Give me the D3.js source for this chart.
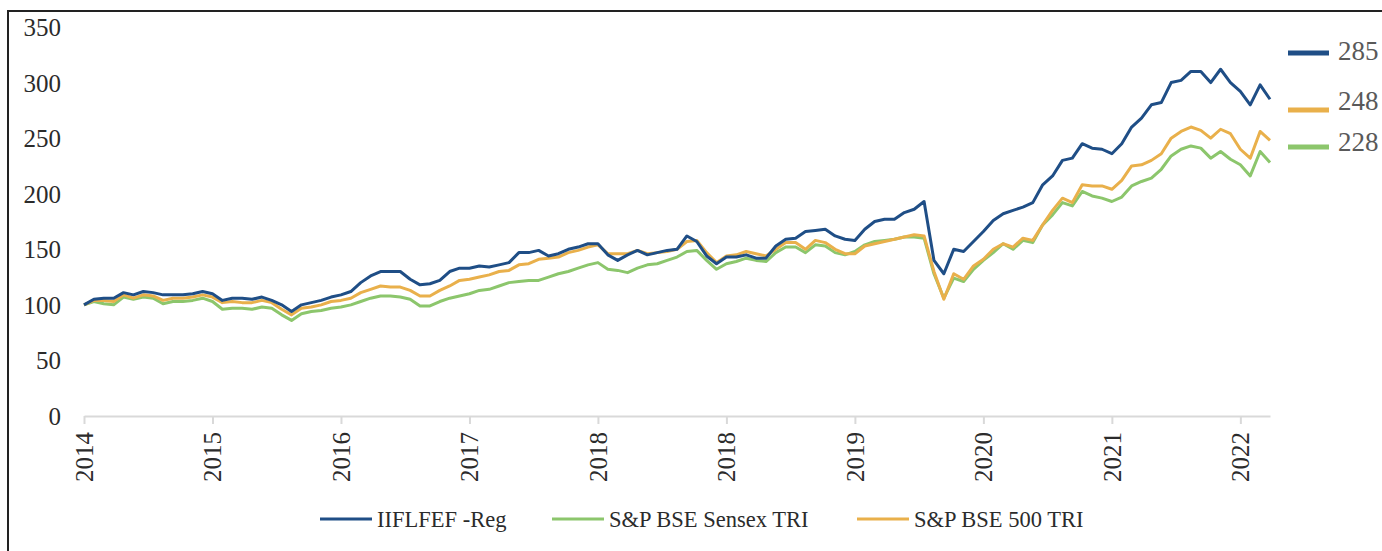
<!DOCTYPE html>
<html><head><meta charset="utf-8">
<script src="https://cdn.jsdelivr.net/npm/d3@7"></script>
<style>body{margin:0;background:#fff;}svg{display:block;}</style>
</head><body>
<svg id="chart" width="1382" height="551"></svg>
<script>
const seriesNames = ["IIFLFEF -Reg", "S&P BSE Sensex TRI", "S&P BSE 500 TRI"];
const tickLabels = ["2014","2015","2016","2017","2018","2018","2019","2020","2021","2022"];
const yTicks = [0,50,100,150,200,250,300,350];
const tickStep = 13; // one labelled tick every 13 samples

const iiflfef = [100,105,106,106,111,109,112,111,109,109,109,110,112,110,104,106,106,105,107,104,
  100,94,100,102,104,107,109,112,120,126,130,130,130,123,118,119,122,130,133,133,
  135,134,136,138,147,147,149,144,146,150,152,155,155,145,140,145,149,145,147,149,
  150,162,157,144,137,143,143,145,142,142,153,159,160,166,167,168,162,159,158,168,
  175,177,177,183,186,193,140,128,150,148,157,166,176,182,185,188,192,208,216,230,
  232,245,241,240,236,245,260,268,280,282,300,302,310,310,300,312,300,292,280,298,285];
const sensex = [100,103,101,100,107,105,107,106,101,103,103,104,106,103,96,97,97,96,98,97,
  91,86,92,94,95,97,98,100,103,106,108,108,107,105,99,99,103,106,108,110,
  113,114,117,120,121,122,122,125,128,130,133,136,138,132,131,129,133,136,137,140,
  143,148,149,140,132,137,139,142,140,139,147,152,152,147,154,153,147,145,148,154,
  157,158,159,161,161,160,128,106,124,121,132,140,147,155,150,158,156,172,181,192,
  189,202,198,196,193,197,207,211,214,222,234,240,243,241,232,238,231,226,216,238,228];
const bse500 = [100,104,104,103,109,106,109,108,104,106,106,107,109,107,102,103,102,102,104,102,
  96,91,97,98,100,103,104,106,111,114,117,116,116,113,108,108,113,117,122,123,
  125,127,130,131,136,137,141,142,143,147,149,152,154,146,146,146,149,146,147,148,
  150,157,158,147,138,144,145,148,146,144,150,156,156,150,158,156,150,146,146,153,
  155,157,159,161,163,162,130,105,128,123,135,141,150,155,152,160,158,172,185,196,
  192,208,207,207,204,212,225,226,230,236,250,256,260,257,250,258,254,240,232,256,248];
const colors = ["#1f4e86", "#8cc66c", "#e9b04b"];

const svg = d3.select("#chart");
const font = "'Liberation Serif', 'Times New Roman', serif";

// outer border (left and top visible)
svg.append("path").attr("d","M8,551 L8,11 L1382,11").attr("fill","none").attr("stroke","#222").attr("stroke-width",2);

const x0 = 84, x1 = 1270, yBot = 416, yTop = 27;
const n = iiflfef.length;
const x = d3.scaleLinear().domain([0, n-1]).range([x0, x1]);
const y = d3.scaleLinear().domain([0, 350]).range([yBot, yTop]);

// y axis labels
const yAxis = d3.axisLeft(y).tickValues(yTicks).tickSize(0).tickPadding(0);
const gy = svg.append("g").attr("transform","translate(61,0)").call(yAxis);
gy.select(".domain").remove();
gy.selectAll("text").attr("font-family",font).attr("font-size",25).attr("fill","#2b2b2b").attr("dy","0.34em");

// x axis
const tickIdx = tickLabels.map((_, i) => i * tickStep);
const xAxis = d3.axisBottom(x).tickValues(tickIdx).tickSize(8).tickSizeOuter(0)
  .tickFormat((d, i) => tickLabels[i]);
const gx = svg.append("g").attr("transform",`translate(0,${yBot})`).call(xAxis);
gx.select(".domain").attr("stroke","#d9d9d9").attr("stroke-width",2);
gx.selectAll(".tick line").attr("stroke","#d9d9d9").attr("stroke-width",2);
gx.selectAll("text").attr("font-family",font).attr("font-size",25).attr("fill","#2b2b2b")
  .attr("text-anchor","end").attr("transform","rotate(-90)")
  .attr("x",-16).attr("y",0).attr("dy","0.33em");

// lines
const line = d3.line().x((d,i)=>x(i)).y(d=>y(d));
const drawOrder = [[sensex,1],[bse500,2],[iiflfef,0]];
drawOrder.forEach(([data,ci]) => {
  svg.append("path").datum(data).attr("d",line).attr("fill","none")
    .attr("stroke",colors[ci]).attr("stroke-width",3).attr("stroke-linejoin","round");
});

// right-side end markers
const ends = [
  {v: iiflfef[n-1], c: colors[0], ly: 53, ty: 51},
  {v: bse500[n-1], c: colors[2], ly: 110, ty: 101},
  {v: sensex[n-1], c: colors[1], ly: 147, ty: 142}
];
ends.forEach(e => {
  svg.append("line").attr("x1",1288).attr("x2",1329).attr("y1",e.ly).attr("y2",e.ly)
    .attr("stroke",e.c).attr("stroke-width",5);
  svg.append("text").attr("x",1338).attr("y",e.ty).attr("dy","0.35em")
    .attr("font-family",font).attr("font-size",27).attr("fill","#595959").text(e.v);
});

// bottom legend
const legend = [
  {name: seriesNames[0], c: colors[0], lx: 320},
  {name: seriesNames[1], c: colors[1], lx: 552},
  {name: seriesNames[2], c: colors[2], lx: 857}
];
legend.forEach(l => {
  svg.append("line").attr("x1",l.lx).attr("x2",l.lx+52).attr("y1",519).attr("y2",519)
    .attr("stroke",l.c).attr("stroke-width",3);
  svg.append("text").attr("x",l.lx+57).attr("y",519).attr("dy","0.35em")
    .attr("font-family",font).attr("font-size",22.5).attr("fill","#2b2b2b").text(l.name);
});
</script>
</body></html>
